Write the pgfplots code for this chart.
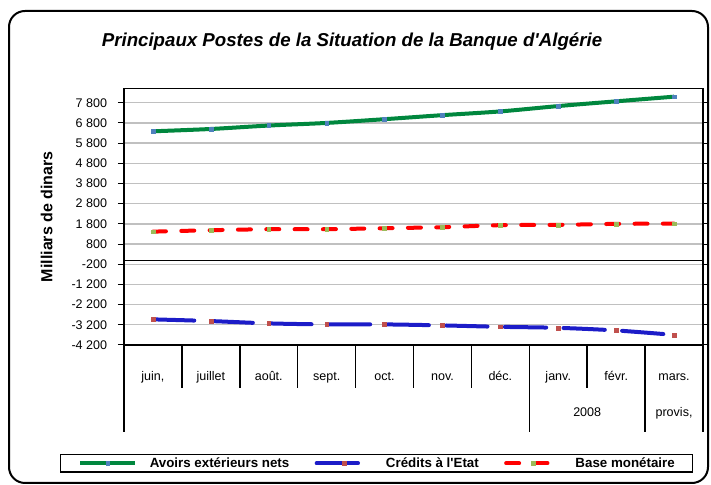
\documentclass[border=0pt]{standalone}
\usepackage{pgfplots}
\pgfplotsset{compat=1.18}
\usepackage{fontspec}
\setmainfont{Liberation Sans}
\definecolor{cgreen}{RGB}{0,135,62}
\definecolor{cblue}{RGB}{28,28,200}
\definecolor{cred}{RGB}{255,0,0}
\definecolor{mblue}{RGB}{79,129,189}
\definecolor{mred}{RGB}{192,80,77}
\definecolor{mgreen}{RGB}{155,187,89}
\definecolor{cgrid}{RGB}{192,192,192}
\begin{document}
\begin{tikzpicture}
\useasboundingbox (0,0) rectangle (533.25pt,363.75pt);
\draw[line width=1.5pt, rounded corners=12pt] (6.75pt,1.5pt) rectangle (531pt,355.5pt);
\node[font=\fontsize{14}{16}\selectfont\bfseries\itshape] at (264pt,332.25pt) {Principaux Postes de la Situation de la Banque d\textquotesingle Algérie};
\begin{axis}[
  at={(93pt,105pt)}, anchor=south west, scale only axis,
  width=434.25pt, height=192.5pt,
  xmin=-0.5, xmax=9.5, ymin=-4200, ymax=8513,
  clip=false,
  axis line style={line width=1pt},
  xtick={0,...,9},
  xticklabels={{juin,},juillet,août.,sept.,oct.,nov.,déc.,janv.,févr.,mars.},
  xtick style={draw=none},
  xticklabel style={anchor=base, inner sep=0pt, yshift=-22.3pt},
  ytick={-4200,-3200,...,7800},
  yticklabels={-4 200,-3 200,-2 200,-1 200,-200,800,1 800,2 800,3 800,4 800,5 800,6 800,7 800},
  yticklabel style={anchor=east, inner sep=0pt, xshift=-8pt},
  tick align=outside, major tick length=4.5pt,
  ytick style={line width=0.75pt, black},
  ymajorgrids, major grid style={cgrid, line width=1pt},
  extra y ticks={0}, extra y tick labels={},
  extra y tick style={major grid style={black, line width=1pt}, ytick style={draw=none}},
  tick label style={font=\fontsize{9.4}{11}\selectfont},
  ylabel={Milliars de dinars},
  every axis y label/.style={at={(-0.1335,0.5)}, rotate=90, anchor=center, font=\fontsize{12}{14}\selectfont\bfseries},
  legend columns=3,
  legend cell align=left,
  legend image code/.code={\draw[mark repeat=2,mark phase=2] plot coordinates {(0pt,0pt) (20.5pt,0pt) (41pt,0pt)};},
  legend style={at={(0.4363,-0.4609)}, anchor=center, draw=black, line width=1pt,
    inner xsep=13.5pt, inner ysep=2pt, font=\fontsize{10}{12}\selectfont\bfseries,
    nodes={inner sep=0pt},
    /tikz/every odd column/.style={column sep=9.5pt},
    /tikz/every even column/.style={column sep=19pt}},
]
\addplot[cgreen, line width=3pt, smooth, mark=square*, mark size=1.4pt, mark options={fill=mblue, draw=mblue, solid, line width=0.3pt}]
 coordinates {(0,6385) (1,6500) (2,6670) (3,6800) (4,6985) (5,7185) (6,7370) (7,7635) (8,7870) (9,8100)};
\addlegendentry{Avoirs extérieurs nets}
\addplot[cblue, line width=3pt, line cap=round, dash pattern=on 31pt off 13pt, smooth, mark=square*, mark size=1.4pt, mark options={fill=mred, draw=mred, solid, line width=0.3pt}]
 coordinates {(0,-2930) (1,-3015) (2,-3130) (3,-3180) (4,-3180) (5,-3230) (6,-3300) (7,-3350) (8,-3480) (9,-3700)};
\addlegendentry{Crédits à l\textquotesingle Etat}
\addplot[cred, line width=3pt, line cap=round, dash pattern=on 9.75pt off 11.5pt, smooth, mark=square*, mark size=1.4pt, mark options={fill=mgreen, draw=mgreen, solid, line width=0.3pt}]
 coordinates {(0,1415) (1,1485) (2,1535) (3,1535) (4,1585) (5,1635) (6,1735) (7,1750) (8,1800) (9,1810)};
\addlegendentry{Base monétaire}
\pgfplotsinvokeforeach{0.5,1.5,2.5,3.5,4.5,5.5,7.5}{\draw[line width=1.1pt] (axis cs:#1,-4200) -- ++(0pt,-32.25pt);}
\pgfplotsinvokeforeach{-0.5,6.5,8.5,9.5}{\draw[line width=1.1pt] (axis cs:#1,-4200) -- ++(0pt,-65.25pt);}
\node[font=\fontsize{9.4}{11}\selectfont, anchor=base, inner sep=0pt] at (axis cs:7.5,-4200) [yshift=-53.3pt] {2008};
\node[font=\fontsize{9.4}{11}\selectfont, anchor=base, inner sep=0pt] at (axis cs:9,-4200) [yshift=-53.3pt] {provis,};
\end{axis}
\end{tikzpicture}
\end{document}
